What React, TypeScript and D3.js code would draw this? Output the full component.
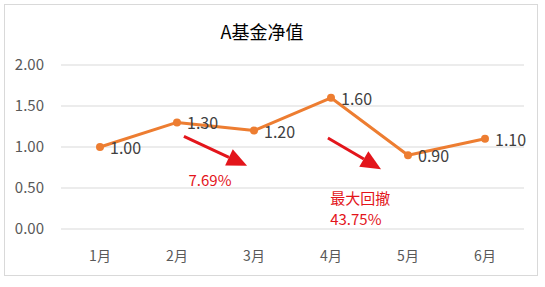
import React from "react";
import { scaleLinear, scalePoint, line } from "d3";

const months = ["1月", "2月", "3月", "4月", "5月", "6月"];
const navValues = [1.0, 1.3, 1.2, 1.6, 0.9, 1.1];
const yTicks = [0, 0.5, 1.0, 1.5, 2.0];

// drawdown annotations: arrow from (category, step offset, value) to (category, step offset, value)
const arrows = [
  { from: ["2月", 0.09, 1.13], to: ["3月", -0.09, 0.77] },
  { from: ["4月", -0.04, 1.11], to: ["5月", -0.35, 0.73] }
];
const notes = [
  { at: ["2月", 0.15, 0.52], lines: ["7.69%"] },
  { at: ["4月", -0.01, 0.31], lines: ["最大回撤", "43.75%"] }
];

const W = 545;
const H = 287;
const font = "'Noto Sans CJK SC', 'Open Sans', sans-serif";
const textColor = "#595959";
const orange = "#ED7D31";
const red = "#E3151B";

export default function App() {
  const x = scalePoint<string>().domain(months).range([100, 485]);
  const y = scaleLinear().domain([0, 2]).range([229, 65]);
  const step = x.step();
  const px = (c: string, off: number) => (x(c) ?? 0) + off * step;

  const path = line<number>()
    .x((_, i) => x(months[i]) ?? 0)
    .y((d) => y(d))(navValues);

  return (
    <svg width={W} height={H} style={{ position: "absolute", left: 0, top: 0, background: "#fff" }}>
      <rect x={4.5} y={4.5} width={533} height={271} fill="#fff" stroke="#D9D9D9" />
      <text x={262} y={39} textAnchor="middle" fontFamily={font} fontSize={18} fill="#000">
        A基金净值
      </text>

      {/* grid + y axis */}
      {yTicks.map((t) => (
        <g key={t}>
          <line x1={61} x2={524} y1={y(t)} y2={y(t)} stroke="#D9D9D9" strokeWidth={1} />
          <text x={44} y={y(t)} dy="0.35em" textAnchor="end" fontFamily={font} fontSize={15} fill={textColor}>
            {t.toFixed(2)}
          </text>
        </g>
      ))}

      {/* x axis labels */}
      {months.map((m) => (
        <text key={m} x={x(m)} y={261} textAnchor="middle" fontFamily={font} fontSize={14} fill={textColor}>
          {m}
        </text>
      ))}

      {/* series */}
      <path d={path ?? ""} fill="none" stroke={orange} strokeWidth={3} strokeLinejoin="round" />
      {navValues.map((v, i) => (
        <g key={i}>
          <circle cx={x(months[i])} cy={y(v)} r={4} fill={orange} />
          <text x={(x(months[i]) ?? 0) + 10} y={y(v) + 7} fontFamily={font} fontSize={16} fill="#404040">
            {v.toFixed(2)}
          </text>
        </g>
      ))}

      {/* arrows */}
      {arrows.map((a, i) => {
        const x1 = px(a.from[0] as string, a.from[1] as number);
        const y1 = y(a.from[2] as number);
        const x2 = px(a.to[0] as string, a.to[1] as number);
        const y2 = y(a.to[2] as number);
        const ang = Math.atan2(y2 - y1, x2 - x1);
        const hl = 20;
        const hw = 9;
        const bx = x2 - hl * Math.cos(ang);
        const by = y2 - hl * Math.sin(ang);
        const nx = -Math.sin(ang);
        const ny = Math.cos(ang);
        return (
          <g key={i}>
            <line x1={x1} y1={y1} x2={bx} y2={by} stroke={red} strokeWidth={3} />
            <polygon
              points={`${x2},${y2} ${bx + nx * hw},${by + ny * hw} ${bx - nx * hw},${by - ny * hw}`}
              fill={red}
            />
          </g>
        );
      })}

      {notes.map((n, i) => (
        <text key={i} x={px(n.at[0] as string, n.at[1] as number)} y={y(n.at[2] as number)} fontFamily={font} fontSize={15} fill={red}>
          {n.lines.map((l, j) => (
            <tspan key={j} x={px(n.at[0] as string, n.at[1] as number)} dy={j === 0 ? 0 : 21}>
              {l}
            </tspan>
          ))}
        </text>
      ))}
    </svg>
  );
}
